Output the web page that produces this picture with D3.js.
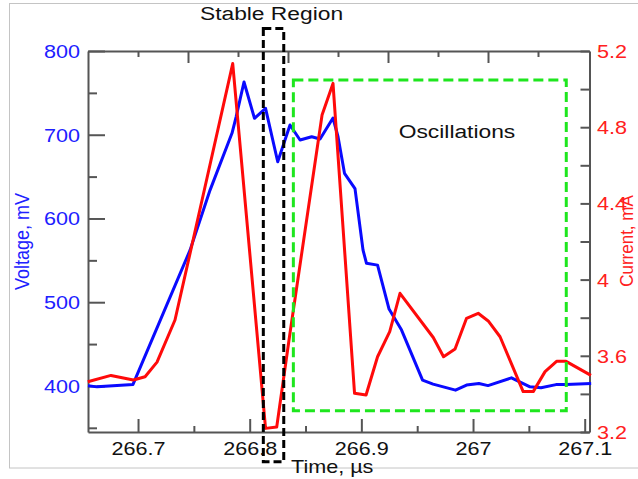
<!DOCTYPE html>
<html>
<head>
<meta charset="utf-8">
<script src="https://cdn.jsdelivr.net/npm/d3@7/dist/d3.min.js"></script>
<style>
  html, body { margin: 0; padding: 0; background: #fff; }
  svg { display: block; }
  text { font-family: "Liberation Sans", Arial, sans-serif; }
</style>
</head>
<body>
<svg id="chart" width="638" height="479"></svg>
<script>
// Time axis (µs)
const timeMajorTicks = [266.7, 266.8, 266.9, 267.0, 267.1];
const timeMinorTicks = [266.75, 266.85, 266.95, 267.05];
const timeTickLabels = ["266.7", "266.8", "266.9", "267", "267.1"];

// Voltage axis (mV)
const voltageMajorTicks = [400, 500, 600, 700, 800];
const voltageMinorTicks = [350, 450, 550, 650, 750];

// Current axis (mA)
const currentMajorTicks = [3.2, 3.6, 4.0, 4.4, 4.8, 5.2];
const currentMinorTicks = [3.4, 3.8, 4.2, 4.6, 5.0];
const currentTickLabels = ["3.2", "3.6", "4", "4.4", "4.8", "5.2"];

// Unlabelled secondary ticks along the top edge
const topMajorTicks = [1, 2, 3, 4];
const topMinorTicks = [0.5, 1.5, 2.5, 3.5, 4.5];

// Voltage trace: time (µs) and voltage (mV)
const voltageTime = [266.6552, 266.6633, 266.6955, 266.7466, 266.7645, 266.7842, 266.7878, 266.7949,
  266.8043, 266.8142, 266.8251, 266.8361, 266.8451, 266.8555, 266.8630, 266.8746, 266.8791, 266.8849,
  266.8943, 266.9015, 266.9046, 266.9145, 266.9248, 266.9360, 266.9548, 266.9642, 266.9843, 266.9942,
  267.0053, 267.0134, 267.0344, 267.0510, 267.0609, 267.0743, 267.0833, 267.1058];
const voltageValues = [400.1, 398.9, 401.8, 562.2, 633.9, 702.0, 721.1, 763.0,
  719.6, 731.5, 667.7, 711.6, 693.7, 697.6, 694.9, 720.0, 697.6, 653.9,
  635.7, 562.2, 546.4, 544.3, 491.8, 466.7, 406.9, 402.2, 395.0, 401.0,
  403.0, 400.4, 409.7, 398.9, 397.9, 401.6, 401.8, 403.0];

// Current trace: time (µs) and current (mA)
const currentTime = [266.6550, 266.6758, 266.6958, 266.7063, 266.7170, 266.7331, 266.7493, 266.7848,
  266.8142, 266.8242, 266.8361, 266.8648, 266.8746, 266.8939, 266.9042, 266.9145, 266.9254, 266.9346,
  266.9644, 266.9736, 266.9839, 266.9942, 267.0046, 267.0136, 267.0242, 267.0449, 267.0539, 267.0645,
  267.0748, 267.0833, 267.1056];
const currentValues = [3.464, 3.497, 3.473, 3.490, 3.567, 3.788, 4.208, 5.134,
  3.219, 3.226, 3.720, 4.864, 5.030, 3.403, 3.394, 3.595, 3.727, 3.928,
  3.696, 3.595, 3.636, 3.797, 3.823, 3.783, 3.700, 3.412, 3.412, 3.517,
  3.571, 3.571, 3.497];

// Highlighted regions (time in µs, voltage in mV)
const stableRegion = { t0: 266.8122, t1: 266.8305, v0: 309.5, v1: 827.0 };
const oscillationRegion = { t0: 266.8391, t1: 267.0835, v0: 370.5, v1: 765.5 };

const svg = d3.select("#chart");
const plotLeft = 88, plotRight = 589.5, plotTop = 51, plotBottom = 432;
const stretch = "scale(1.2,1)";

const x = d3.scaleLinear().domain([266.6552, 267.1043]).range([plotLeft, plotRight]);
const yV = d3.scaleLinear().domain([345, 800]).range([plotBottom, plotTop]);
const yC = d3.scaleLinear().domain([3.2, 5.2]).range([plotBottom, plotTop]);
const xTop = d3.scaleLinear().domain([0, (plotRight - plotLeft) / 100]).range([plotLeft, plotRight]);

// outer border
svg.append("rect")
  .attr("x", 9.5).attr("y", 3.5).attr("width", 640).attr("height", 464.5)
  .attr("fill", "none").attr("stroke", "#c4c4c4").attr("stroke-width", 1);

const axisColor = "#555";
function styleAxis(g) {
  g.selectAll("path.domain").attr("stroke", axisColor).attr("stroke-width", 2);
  g.selectAll(".tick line").attr("stroke", axisColor).attr("stroke-width", 2);
}

// left voltage axis
const gLeftMinor = svg.append("g").attr("transform", `translate(${plotLeft},0)`)
  .call(d3.axisLeft(yV).tickValues(voltageMinorTicks).tickSize(-9).tickSizeOuter(0).tickFormat(""));
styleAxis(gLeftMinor);
gLeftMinor.select("path.domain").remove();
const gLeft = svg.append("g").attr("transform", `translate(${plotLeft},0)`)
  .call(d3.axisLeft(yV).tickValues(voltageMajorTicks).tickSize(-17).tickSizeOuter(0).tickFormat(d3.format("d")));
styleAxis(gLeft);
gLeft.selectAll("text")
  .attr("x", -6.7).attr("dy", "0.36em")
  .attr("transform", stretch)
  .attr("fill", "#2020ff").style("font-size", "18px");

// right current axis
const gRightMinor = svg.append("g").attr("transform", `translate(${plotRight},0)`)
  .call(d3.axisRight(yC).tickValues(currentMinorTicks).tickSize(-9).tickSizeOuter(0).tickFormat(""));
styleAxis(gRightMinor);
gRightMinor.select("path.domain").remove();
const gRight = svg.append("g").attr("transform", `translate(${plotRight},0)`)
  .call(d3.axisRight(yC).tickValues(currentMajorTicks).tickSize(-9).tickSizeOuter(0)
    .tickFormat((d, i) => currentTickLabels[i]));
styleAxis(gRight);
gRight.selectAll("text")
  .attr("x", 6.3).attr("dy", "0.36em")
  .attr("transform", stretch)
  .attr("fill", "#ff2020").style("font-size", "18px");

// bottom time axis
const gBottomMinor = svg.append("g").attr("transform", `translate(0,${plotBottom})`)
  .call(d3.axisBottom(x).tickValues(timeMinorTicks).tickSize(-6).tickSizeOuter(0).tickFormat(""));
styleAxis(gBottomMinor);
gBottomMinor.select("path.domain").remove();
const gBottom = svg.append("g").attr("transform", `translate(0,${plotBottom})`)
  .call(d3.axisBottom(x).tickValues(timeMajorTicks).tickSize(-13).tickSizeOuter(0)
    .tickFormat((d, i) => timeTickLabels[i]));
styleAxis(gBottom);
gBottom.selectAll("text")
  .attr("y", 23).attr("dy", 0)
  .attr("transform", stretch)
  .attr("fill", "#111").style("font-size", "18px");

// top secondary ticks
const gTopMinor = svg.append("g").attr("transform", `translate(0,${plotTop})`)
  .call(d3.axisTop(xTop).tickValues(topMinorTicks).tickSize(-6).tickSizeOuter(0).tickFormat(""));
styleAxis(gTopMinor);
gTopMinor.select("path.domain").remove();
const gTop = svg.append("g").attr("transform", `translate(0,${plotTop})`)
  .call(d3.axisTop(xTop).tickValues(topMajorTicks).tickSize(-12).tickSizeOuter(0).tickFormat(""));
styleAxis(gTop);

// traces
const voltageData = voltageTime.map((t, i) => [t, voltageValues[i]]);
const currentData = currentTime.map((t, i) => [t, currentValues[i]]);

svg.append("path")
  .datum(voltageData)
  .attr("fill", "none").attr("stroke", "#0a0aff").attr("stroke-width", 3)
  .attr("stroke-linejoin", "round")
  .attr("d", d3.line().x(d => x(d[0])).y(d => yV(d[1])));

svg.append("path")
  .datum(currentData)
  .attr("fill", "none").attr("stroke", "#ff0a0a").attr("stroke-width", 3)
  .attr("stroke-linejoin", "round")
  .attr("d", d3.line().x(d => x(d[0])).y(d => yC(d[1])));

// region boxes
svg.append("rect")
  .attr("x", x(oscillationRegion.t0)).attr("y", yV(oscillationRegion.v1))
  .attr("width", x(oscillationRegion.t1) - x(oscillationRegion.t0))
  .attr("height", yV(oscillationRegion.v0) - yV(oscillationRegion.v1))
  .attr("fill", "none").attr("stroke", "#1ee61e").attr("stroke-width", 3)
  .attr("stroke-dasharray", "10 5");

svg.append("rect")
  .attr("x", x(stableRegion.t0)).attr("y", yV(stableRegion.v1))
  .attr("width", x(stableRegion.t1) - x(stableRegion.t0))
  .attr("height", yV(stableRegion.v0) - yV(stableRegion.v1))
  .attr("fill", "none").attr("stroke", "#000").attr("stroke-width", 3)
  .attr("stroke-dasharray", "8 4");

// annotations and axis titles
function stretchedText(tx, ty, str, opts) {
  return svg.append("text")
    .attr("transform", `translate(${tx},${ty}) ${opts.rotate ? "scale(1.1,1) rotate(-90)" : stretch}`)
    .attr("text-anchor", opts.anchor || "middle")
    .attr("fill", opts.color || "#111")
    .style("font-size", (opts.size || 19) + "px")
    .text(str);
}

stretchedText(271.5, 20, "Stable Region", { size: 19 });
stretchedText(457, 138, "Oscillations", { size: 19 });
stretchedText(291, 473, "Time, µs", { size: 18, anchor: "start" });
stretchedText(29, 241.5, "Voltage, mV", { size: 18, rotate: true, color: "#2020ff" });
stretchedText(633, 241, "Current, mA", { size: 17, rotate: true, color: "#ff2020" });
</script>
</body>
</html>
